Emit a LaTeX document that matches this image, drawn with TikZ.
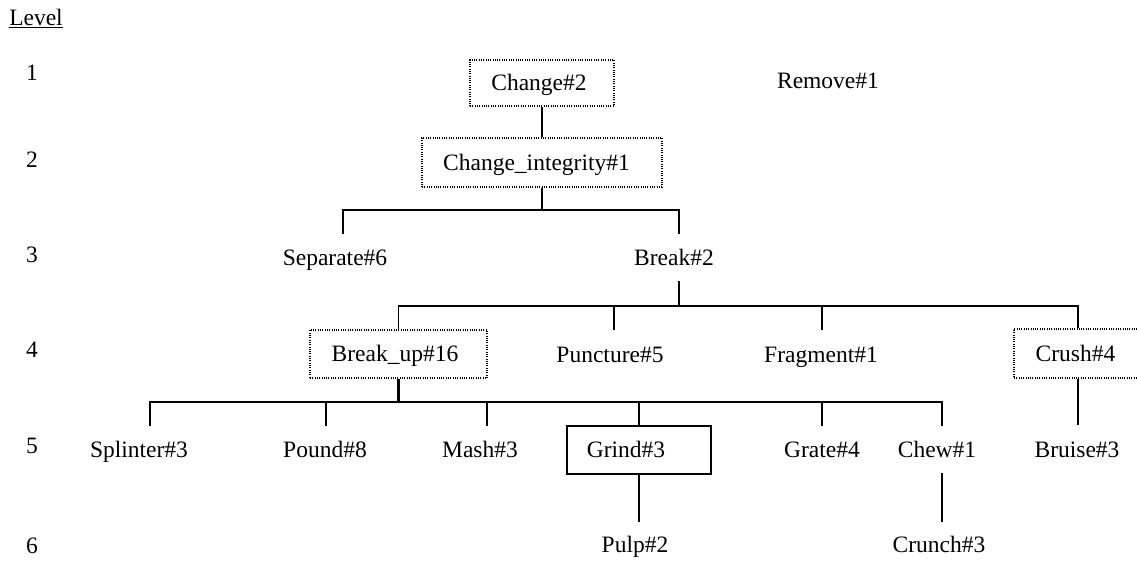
\documentclass[tikz,border=0pt]{standalone}
\usepackage{fontspec}
\setmainfont{Liberation Serif}
\begin{document}
\begin{tikzpicture}[x=1pt,y=-1pt,
  every node/.style={font=\fontsize{23.5}{28}\selectfont, text height=15.5pt, text depth=0pt, inner sep=0pt, anchor=center},
  dotbox/.style={draw, line width=1.2pt, dash pattern=on 1pt off 1.3pt, minimum height=47pt},
  solidbox/.style={draw, line width=1.5pt, minimum height=48pt},
  tleft/.style={execute at begin node={\hspace*{-#1}}},
  conn/.style={line width=1.5pt},
  stem/.style={line width=2.2pt},
]
\useasboundingbox (0,0) rectangle (1137,561);

% level labels
\node (lvl) at (36,17.5) {\underline{Level}};
\node (n1) at (32,72.5) {1};
\node (n2) at (32,160) {2};
\node (n3) at (32,255) {3};
\node (n4) at (32,349.5) {4};
\node (n5) at (32,446) {5};
\node (n6) at (32,546) {6};

% level 1
\node[dotbox, minimum width=144pt, minimum height=46pt, tleft=6pt] (change) at (542,83) {Change\#2};
\node (remove) at (828,81) {Remove\#1};
% level 2
\node[dotbox, minimum width=240pt, minimum height=49pt, tleft=11pt] (ci) at (542,162.5) {Change\_integrity\#1};
% level 3
\node (sep) at (335,258) {Separate\#6};
\node (brk) at (674,258) {Break\#2};
% level 4
\node[dotbox, minimum width=177pt, minimum height=48pt, tleft=7pt] (bu) at (398.5,354) {Break\_up\#16};
\node (punc) at (610,355) {Puncture\#5};
\node (frag) at (821,355) {Fragment\#1};
\node[dotbox, minimum width=128pt, minimum height=49pt, tleft=5pt] (crush) at (1078,353.5) {Crush\#4};
% level 5
\node (spl) at (139,449.5) {Splinter\#3};
\node (pound) at (325,449.5) {Pound\#8};
\node (mash) at (480,449.5) {Mash\#3};
\node[solidbox, minimum width=144pt, tleft=26pt] (grind) at (639,450) {Grind\#3};
\node (grate) at (822,449.5) {Grate\#4};
\node (chew) at (937,449.5) {Chew\#1};
\node (bruise) at (1077,449.5) {Bruise\#3};
% level 6
\node (pulp) at (635,545) {Pulp\#2};
\node (crunch) at (939,545) {Crunch\#3};

% connector coordinates
\coordinate (j1) at (542,210);
\coordinate (sepT) at (343,234);
\coordinate (brkT) at (679,234);
\coordinate (brkB) at (679,281);
\coordinate (j2) at (679,306);
\coordinate (puncT) at (614,330);
\coordinate (fragT) at (822,330);
\coordinate (j3) at (398.5,402);
\coordinate (splT) at (150,426);
\coordinate (poundT) at (326,426);
\coordinate (mashT) at (487,426);
\coordinate (grateT) at (822,426);
\coordinate (chewT) at (942,426);
\coordinate (bruT) at (1078,425);
\coordinate (pulpT) at (639,522);
\coordinate (chewB) at (942,473);
\coordinate (crunchT) at (942,522);

% connectors
\draw[conn] (change.south) -- (ci.north);
\draw[stem] (ci.south) -- (j1);
\draw[conn] (sepT) |- (j1) -| (brkT);

\draw[stem] (brkB) -- (j2);
\draw[conn] (bu.north) |- (j2) -| (crush.north);
\draw[conn] (puncT) -- (puncT |- j2);
\draw[conn] (fragT) -- (fragT |- j2);

\draw[stem] (bu.south) -- (j3);
\draw[conn] (splT) |- (j3) -| (chewT);
\draw[conn] (poundT) -- (poundT |- j3);
\draw[conn] (mashT) -- (mashT |- j3);
\draw[conn] (grind.north) -- (grind.north |- j3);
\draw[conn] (grateT) -- (grateT |- j3);

\draw[conn] (crush.south) -- (bruT);
\draw[conn] (grind.south) -- (pulpT);
\draw[conn] (chewB) -- (crunchT);
\end{tikzpicture}
\end{document}
